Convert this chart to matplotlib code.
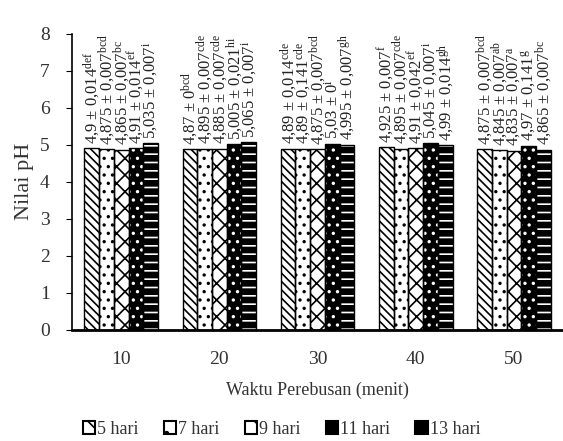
import matplotlib
matplotlib.use("Agg")
import matplotlib.pyplot as plt
from matplotlib.patches import Patch
import numpy as np

plt.rcParams['font.family'] = ['Liberation Serif', 'DejaVu Serif']
plt.rcParams['mathtext.fontset'] = 'custom'
plt.rcParams['mathtext.rm'] = 'Liberation Serif'
plt.rcParams['mathtext.it'] = 'Liberation Serif'
plt.rcParams['hatch.linewidth'] = 1.2

categories = ['10', '20', '30', '40', '50']
series = ['5 hari', '7 hari', '9 hari', '11 hari', '13 hari']
values = [
    [4.9, 4.87, 4.89, 4.925, 4.875],
    [4.875, 4.895, 4.89, 4.895, 4.845],
    [4.865, 4.885, 4.875, 4.91, 4.835],
    [4.91, 5.005, 5.03, 5.045, 4.97],
    [5.035, 5.065, 4.995, 4.99, 4.865],
]
labels = [
    ['4,9 ± 0,014', '4,87 ± 0', '4,89 ± 0,014', '4,925 ± 0,007', '4,875 ± 0,007'],
    ['4,875 ± 0,007', '4,895 ± 0,007', '4,89 ± 0,141', '4,895 ± 0,007', '4,845 ± 0,007'],
    ['4,865 ± 0,007', '4,885 ± 0,007', '4,875 ± 0,007', '4,91 ± 0,042', '4,835 ± 0,007'],
    ['4,91 ± 0,014', '5,005 ± 0,021', '5,03 ± 0', '5,045 ± 0,007', '4,97 ± 0,141'],
    ['5,035 ± 0,007', '5,065 ± 0,007', '4,995 ± 0,007', '4,99 ± 0,014', '4,865 ± 0,007'],
]
letters = [
    ['def', 'bcd', 'cde', 'f', 'bcd'],
    ['bcd', 'cde', 'cde', 'cde', 'ab'],
    ['bc', 'cde', 'bcd', 'ef', 'a'],
    ['ef', 'hi', 'i', 'i', 'g'],
    ['i', 'i', 'gh', 'gh', 'bc'],
]

hatches = ['\\\\\\\\', '..', 'xx', '..', '--']
faces = ['white', 'white', 'white', 'black', 'black']
hatch_cols = ['black', 'black', 'black', 'white', 'white']
legend_hatches = ['\\\\', '.', 'x', None, None]

fig = plt.figure(figsize=(5.63, 4.41), dpi=100)
ax = fig.add_axes([0.128, 0.252, 0.872, 0.672])

x = np.arange(len(categories))
w = 0.15
handles = []
for i in range(len(series)):
    pos = x + (i - 2) * w
    ax.bar(pos, values[i], w, color=faces[i], edgecolor=hatch_cols[i],
           hatch=hatches[i], linewidth=0, zorder=2)
    ax.bar(pos, values[i], w, fill=False, edgecolor='black', linewidth=1.0, zorder=3)
    handles.append(Patch(facecolor=faces[i], edgecolor='black', linewidth=1.5,
                         hatch=legend_hatches[i]))
    for j in range(len(categories)):
        ax.text(pos[j], values[i][j] + 0.12,
                labels[i][j] + r'$^{\mathrm{' + letters[i][j] + '}}$',
                rotation=90, ha='center', va='bottom', fontsize=12, zorder=4,
                color='#222222')

ax.set_xlim(-0.5, 4.5)
ax.set_ylim(0, 8)
ax.set_yticks(range(0, 9))
ax.set_xticks(x)
ax.set_xticklabels(categories)
ax.tick_params(axis='x', length=0, labelsize=14, pad=15, labelcolor='#333333')
ax.tick_params(axis='y', labelsize=14, direction='out', length=4, pad=12,
               labelcolor='#333333')
ax.spines['top'].set_visible(False)
ax.spines['right'].set_visible(False)
ax.spines['bottom'].set_linewidth(2)
ax.spines['left'].set_linewidth(1.2)
ax.set_ylabel('Nilai pH', fontsize=16, color='#333333', labelpad=4)
ax.set_xlabel('Waktu Perebusan (menit)', fontsize=13, color='#333333', labelpad=10)

fig.legend(handles, series, loc='lower center', ncol=5, frameon=False,
           fontsize=13, handlelength=0.7, handleheight=0.7, handletextpad=0.1,
           columnspacing=1.4, bbox_to_anchor=(0.5, -0.03), labelcolor='#333333')

fig.savefig('out.png', dpi=100)
